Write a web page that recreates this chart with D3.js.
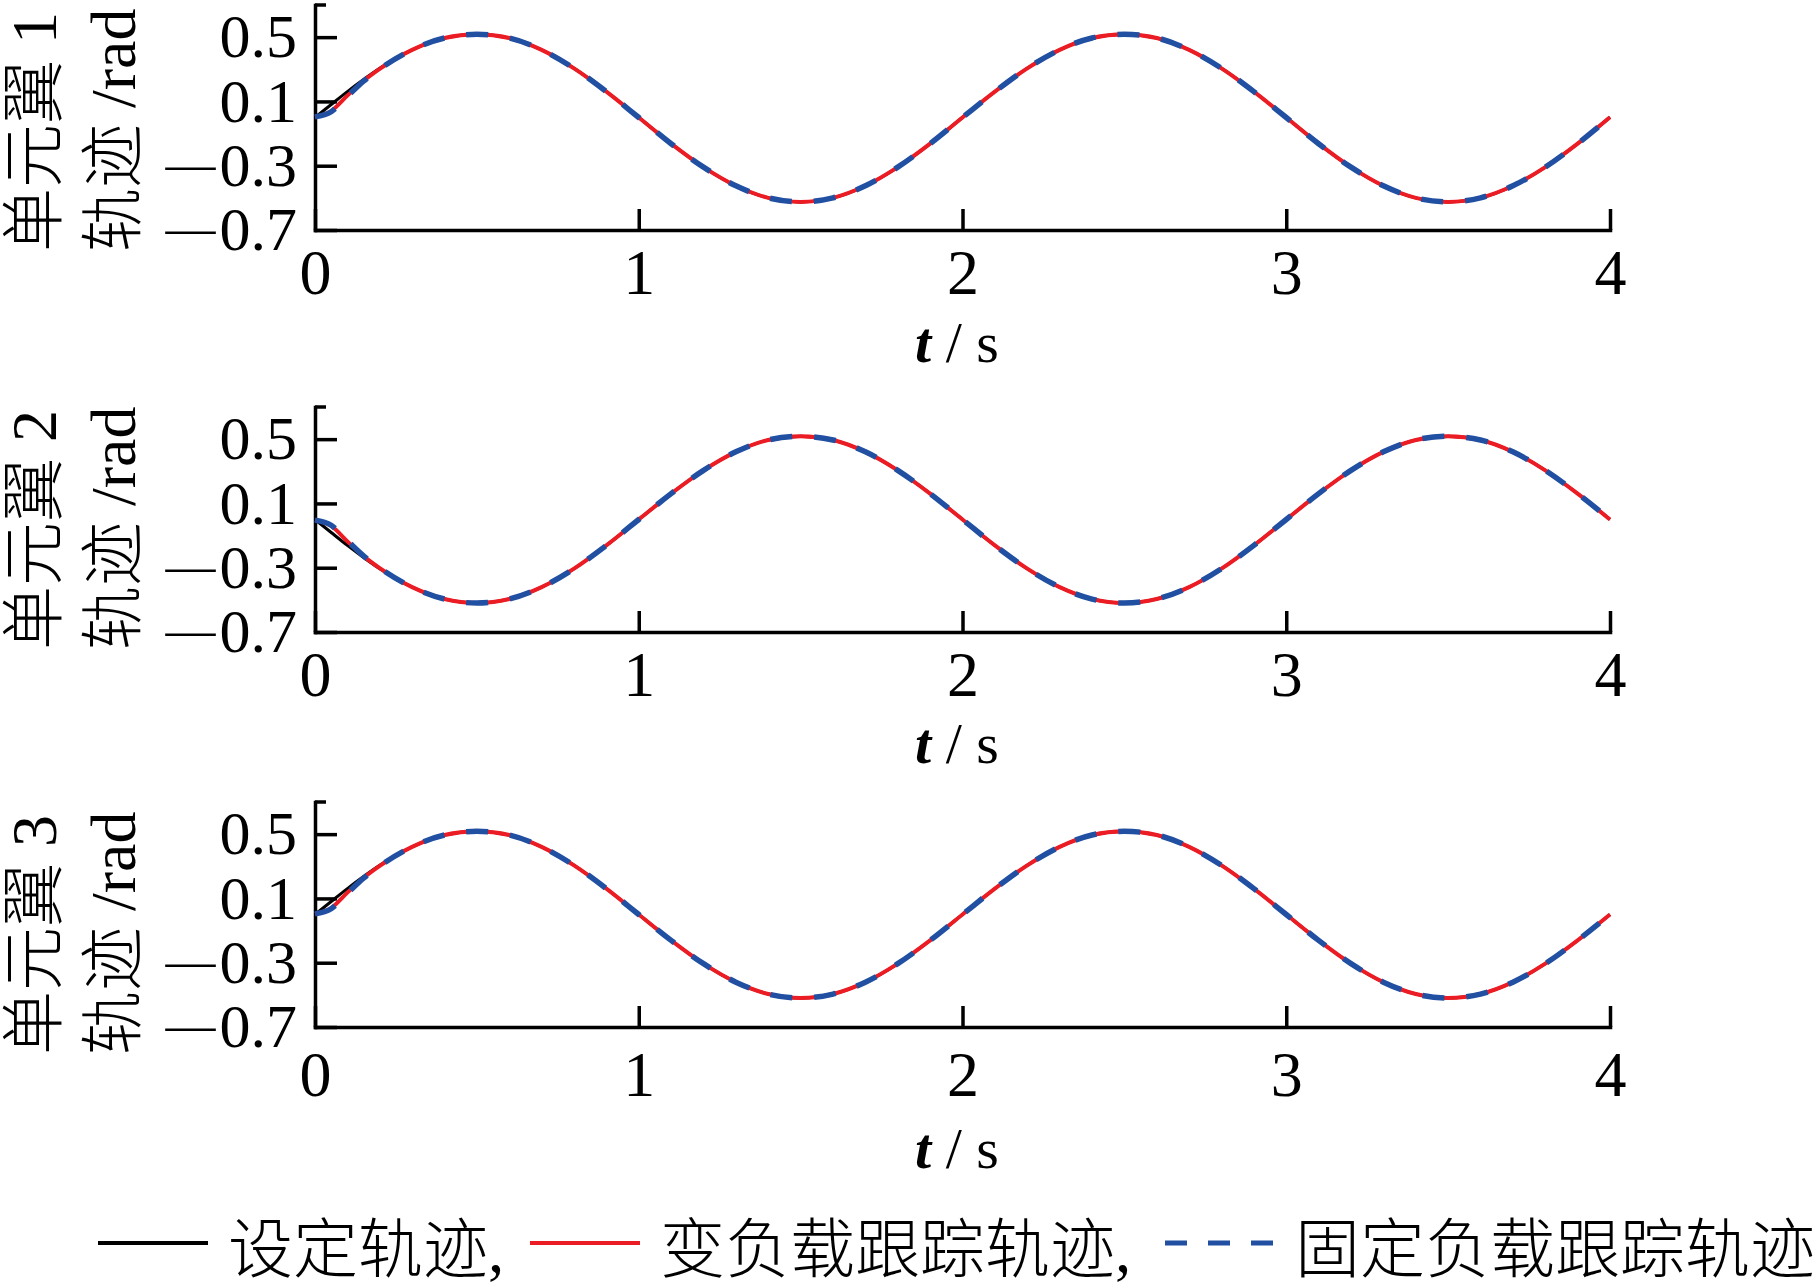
<!DOCTYPE html>
<html>
<head>
<meta charset="utf-8">
<script src="https://cdn.jsdelivr.net/npm/d3@7/dist/d3.min.js"></script>
<style>
  html, body { margin: 0; padding: 0; background: #fff; }
  svg { display: block; }
  text { font-family: "Liberation Serif", "Noto Sans CJK SC", serif; fill: #000; }
</style>
</head>
<body>
<svg id="chart" width="1820" height="1286"></svg>
<script>
// ---------------- data ----------------
const time = [0, 0.05, 0.1, 0.15, 0.2, 0.3, 0.4, 0.5, 0.6, 0.7, 0.8, 0.9, 1.0,
  1.1, 1.2, 1.3, 1.4, 1.5, 1.6, 1.7, 1.8, 1.9, 2.0,
  2.1, 2.2, 2.3, 2.4, 2.5, 2.6, 2.7, 2.8, 2.9, 3.0,
  3.1, 3.2, 3.3, 3.4, 3.5, 3.6, 3.7, 3.8, 3.9, 4.0];

// wing 1
const wing1Set = [0, 0.081, 0.161, 0.236, 0.306, 0.421, 0.495, 0.518, 0.495, 0.421, 0.306, 0.161, 0,
  -0.163, -0.309, -0.425, -0.500, -0.525, -0.500, -0.425, -0.309, -0.163, 0,
  0.161, 0.306, 0.421, 0.495, 0.518, 0.495, 0.421, 0.306, 0.161, 0,
  -0.163, -0.309, -0.425, -0.500, -0.525, -0.500, -0.425, -0.309, -0.163, 0.002];
const wing1Var = [0.004, 0.040, 0.136, 0.228, 0.303, 0.421, 0.495, 0.518, 0.495, 0.421, 0.306, 0.161, 0,
  -0.163, -0.309, -0.425, -0.500, -0.525, -0.500, -0.425, -0.309, -0.163, 0,
  0.161, 0.306, 0.421, 0.495, 0.518, 0.495, 0.421, 0.306, 0.161, 0,
  -0.163, -0.309, -0.425, -0.500, -0.525, -0.500, -0.425, -0.309, -0.163, 0.002];
const wing1Fix = [0.004, 0.036, 0.132, 0.226, 0.302, 0.421, 0.495, 0.518, 0.495, 0.421, 0.306, 0.161, 0,
  -0.163, -0.309, -0.425, -0.500, -0.525, -0.500, -0.425, -0.309, -0.163, 0,
  0.161, 0.306, 0.421, 0.495, 0.518, 0.495, 0.421, 0.306, 0.161, 0,
  -0.163, -0.309, -0.425, -0.500, -0.525, -0.500, -0.425, -0.309, -0.163, 0.002];

// wing 2
const wing2Set = [0, -0.081, -0.161, -0.236, -0.306, -0.421, -0.495, -0.520, -0.495, -0.421, -0.306, -0.161, 0,
  0.161, 0.306, 0.421, 0.495, 0.518, 0.495, 0.421, 0.306, 0.161, 0,
  -0.161, -0.306, -0.421, -0.495, -0.520, -0.495, -0.421, -0.306, -0.161, 0,
  0.161, 0.306, 0.421, 0.495, 0.518, 0.495, 0.421, 0.306, 0.161, 0];
const wing2Var = [-0.004, -0.040, -0.136, -0.228, -0.303, -0.421, -0.495, -0.520, -0.495, -0.421, -0.306, -0.161, 0,
  0.161, 0.306, 0.421, 0.495, 0.518, 0.495, 0.421, 0.306, 0.161, 0,
  -0.161, -0.306, -0.421, -0.495, -0.520, -0.495, -0.421, -0.306, -0.161, 0,
  0.161, 0.306, 0.421, 0.495, 0.518, 0.495, 0.421, 0.306, 0.161, 0];
const wing2Fix = [-0.004, -0.036, -0.132, -0.226, -0.302, -0.421, -0.495, -0.520, -0.495, -0.421, -0.306, -0.161, 0,
  0.161, 0.306, 0.421, 0.495, 0.518, 0.495, 0.421, 0.306, 0.161, 0,
  -0.161, -0.306, -0.421, -0.495, -0.520, -0.495, -0.421, -0.306, -0.161, 0,
  0.161, 0.306, 0.421, 0.495, 0.518, 0.495, 0.421, 0.306, 0.161, 0];

// wing 3
const wing3Set = [0, 0.081, 0.161, 0.236, 0.306, 0.421, 0.495, 0.518, 0.495, 0.421, 0.306, 0.161, 0,
  -0.161, -0.306, -0.421, -0.495, -0.520, -0.495, -0.421, -0.306, -0.161, 0,
  0.161, 0.306, 0.421, 0.495, 0.518, 0.495, 0.421, 0.306, 0.161, 0,
  -0.161, -0.306, -0.421, -0.495, -0.520, -0.495, -0.421, -0.306, -0.161, 0];
const wing3Var = [0.004, 0.040, 0.136, 0.228, 0.303, 0.421, 0.495, 0.518, 0.495, 0.421, 0.306, 0.161, 0,
  -0.161, -0.306, -0.421, -0.495, -0.520, -0.495, -0.421, -0.306, -0.161, 0,
  0.161, 0.306, 0.421, 0.495, 0.518, 0.495, 0.421, 0.306, 0.161, 0,
  -0.161, -0.306, -0.421, -0.495, -0.520, -0.495, -0.421, -0.306, -0.161, 0];
const wing3Fix = [0.004, 0.036, 0.132, 0.226, 0.302, 0.421, 0.495, 0.518, 0.495, 0.421, 0.306, 0.161, 0,
  -0.161, -0.306, -0.421, -0.495, -0.520, -0.495, -0.421, -0.306, -0.161, 0,
  0.161, 0.306, 0.421, 0.495, 0.518, 0.495, 0.421, 0.306, 0.161, 0,
  -0.161, -0.306, -0.421, -0.495, -0.520, -0.495, -0.421, -0.306, -0.161, 0];

const xTicks = [0, 1, 2, 3, 4];
const xTickLabels = ['0', '1', '2', '3', '4'];
const yTicks = [-0.7, -0.3, 0.1, 0.5];
const yTickLabels = ['—0.7', '—0.3', '0.1', '0.5'];
const wingLabels = ['单元翼 1', '单元翼 2', '单元翼 3'];
const unitLabel = '轨迹 /rad';
const seriesNames = ['设定轨迹,', '变负载跟踪轨迹,', '固定负载跟踪轨迹'];

// ---------------- layout ----------------
const svg = d3.select('#chart');
svg.append('rect').attr('width', 1820).attr('height', 1286).attr('fill', '#fff');

const colors = ['#000000', '#ec1c24', '#2150a2'];
const widths = [3, 4, 5.5];
const dashes = [null, null, '22,22'];
const cjkWeight = 300;

const panels = [
  {top: 5,   data: [wing1Set, wing1Var, wing1Fix], lab: 43, ttl: 132, yl: 22},
  {top: 407, data: [wing2Set, wing2Var, wing2Fix], lab: 43, ttl: 131, yl: 18},
  {top: 802, data: [wing3Set, wing3Var, wing3Fix], lab: 48, ttl: 141, yl: 28}
];
const plotH = 225;
const x = d3.scaleLinear().domain([0, 4]).range([315, 1610]);
const yFont = 62;

panels.forEach((p, i) => {
  const bottom = p.top + plotH;
  const y = d3.scaleLinear().domain([-0.7, 0.7]).range([bottom, p.top]);
  const g = svg.append('g');

  // x axis
  const xa = g.append('g').attr('transform', `translate(0,${bottom})`)
    .call(d3.axisBottom(x).tickValues(xTicks).tickFormat((d, j) => xTickLabels[j])
      .tickSizeInner(-21).tickSizeOuter(0).tickPadding(0));
  xa.select('.domain').attr('stroke', '#000').attr('stroke-width', 3.5).attr('stroke-linecap', 'square');
  xa.selectAll('.tick line').attr('stroke', '#000').attr('stroke-width', 3.5);
  xa.selectAll('.tick text').attr('font-size', 64).attr('fill', '#000')
    .attr('font-family', '"Liberation Serif", serif')
    .attr('y', p.lab).attr('dy', '0.33em');

  // y axis
  const ya = g.append('g').attr('transform', `translate(315,0)`)
    .call(d3.axisLeft(y).tickValues(yTicks).tickFormat(() => '')
      .tickSizeInner(-22).tickSizeOuter(0).tickPadding(18));
  ya.select('.domain').attr('stroke', '#000').attr('stroke-width', 3.5).attr('stroke-linecap', 'square');
  ya.selectAll('.tick line').attr('stroke', '#000').attr('stroke-width', 3.5);
  ya.selectAll('.tick text').each(function(d, j) {
    const t = d3.select(this)
      .attr('font-size', yFont).attr('fill', '#000')
      .attr('font-family', '"Liberation Serif", serif')
      .attr('dy', null);
    const lab = yTickLabels[j];
    t.text(null);
    const base = 0.32 * yFont;
    if (lab.startsWith('—')) {
      t.append('tspan').attr('font-size', 50).attr('dy', base - 5).text('—');
      t.append('tspan').attr('dx', 4).attr('dy', 5).text(lab.slice(1));
    } else {
      t.append('tspan').attr('dy', base).text(lab);
    }
  });
  // top cap
  g.append('line').attr('x1', 315).attr('x2', 326)
    .attr('y1', y(0.7)).attr('y2', y(0.7))
    .attr('stroke', '#000').attr('stroke-width', 3.5);

  // curves
  p.data.forEach((vals, k) => {
    const line = d3.line().x((d, j) => x(time[j])).y(d => y(d)).curve(d3.curveMonotoneX);
    const path = g.append('path').datum(vals)
      .attr('d', line)
      .attr('fill', 'none')
      .attr('stroke', colors[k])
      .attr('stroke-width', widths[k]);
    if (dashes[k]) path.attr('stroke-dasharray', dashes[k]);
  });

  // x title
  const tt = g.append('text').attr('x', 957).attr('y', bottom + p.ttl)
    .attr('text-anchor', 'middle').attr('font-size', 58);
  tt.append('tspan').attr('font-style', 'italic').attr('font-weight', 'bold').text('t');
  tt.append('tspan').text(' / s');

  // y titles (rotated)
  g.append('text')
    .attr('transform', `translate(34,${bottom + p.yl}) rotate(-90)`)
    .attr('text-anchor', 'start').attr('dominant-baseline', 'central')
    .attr('font-size', 64).attr('font-weight', cjkWeight).text(wingLabels[i]);
  g.append('text')
    .attr('transform', `translate(113,${bottom + p.yl}) rotate(-90)`)
    .attr('text-anchor', 'start').attr('dominant-baseline', 'central')
    .attr('font-size', 64).attr('font-weight', cjkWeight).text(unitLabel);
});

// legend
const legendX = [98, 530, 1165];
const legendY = 1243;
const lg = svg.append('g');
seriesNames.forEach((name, k) => {
  lg.append('line')
    .attr('x1', legendX[k]).attr('x2', legendX[k] + 110)
    .attr('y1', legendY).attr('y2', legendY)
    .attr('stroke', colors[k]).attr('stroke-width', k === 2 ? 5 : 4)
    .attr('stroke-dasharray', k === 2 ? '22,21' : null);
  lg.append('text')
    .attr('x', legendX[k] + 130).attr('y', legendY + 29)
    .attr('font-size', 65).attr('font-weight', cjkWeight).text(name);
});
</script>
</body>
</html>
